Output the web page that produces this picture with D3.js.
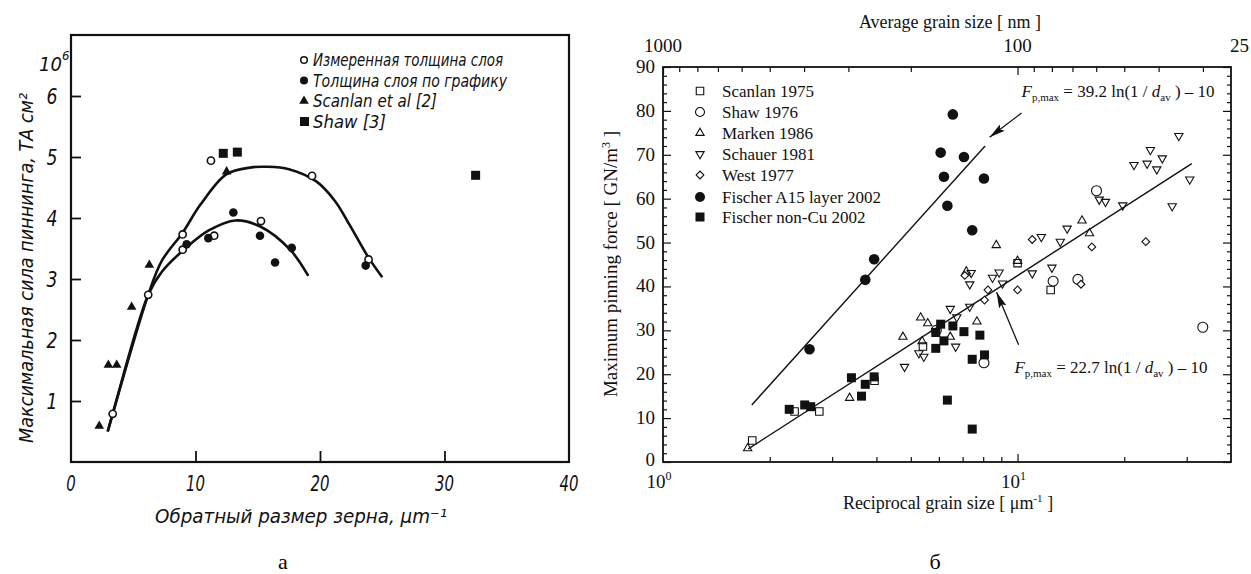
<!DOCTYPE html>
<html><head><meta charset="utf-8">
<script src="https://cdn.jsdelivr.net/npm/d3@7"></script>
<style>body{margin:0;background:#fff} svg{display:block}</style>
</head><body><svg id="c" width="1251" height="574"></svg>
<script>
// ================= Panel "а" data =================
const aMeasured = [[3.35,0.79],[6.2,2.74],[8.97,3.73],[8.97,3.48],[11.24,4.94],[11.5,3.71],[15.26,3.95],[19.36,4.69],[23.9,3.32]];
const aGraph    = [[9.29,3.57],[11.03,3.67],[13.04,4.09],[15.18,3.71],[16.39,3.27],[17.73,3.51],[23.67,3.22]];
const aScanlan  = [[2.27,0.59],[3.0,1.59],[3.67,1.59],[4.87,2.54],[6.29,3.23],[12.5,4.76]];
const aShaw     = [[12.23,5.06],[13.36,5.08],[32.5,4.7]];
const aUpperCurve = [[2.95,0.5],[3.35,0.79],[6.2,2.74],[7.3,3.3],[8.97,3.76],[10.4,4.22],[12.5,4.72],[14.5,4.83],[15.7,4.84],[17.5,4.8],[19.7,4.6],[21.2,4.28],[22.4,3.88],[23.9,3.35],[25.0,3.03]];
const aLowerCurve = [[2.95,0.5],[3.35,0.79],[6.2,2.74],[7.3,3.12],[9.29,3.52],[11.1,3.8],[13.2,3.96],[15.2,3.86],[17.6,3.48],[19.06,3.05]];
const aXTicks = [0,10,20,30,40];
const aYTicks = [1,2,3,4,5,6];
const aLegend = ["Измеренная толщина слоя","Толщина слоя по графику","Scanlan et al [2]","Shaw [3]"];

// ================= Panel "б" data =================
const bScanlan = [[1.785,4.9],[2.35,11.5],[2.76,11.5],[3.95,18.5],[5.41,26.3],[10.0,45.3],[12.4,39.2]];
const bShaw    = [[5.9,30.0],[8.04,22.6],[12.6,41.2],[14.8,41.6],[16.7,61.8],[33.3,30.7]];
const bMarken  = [[1.733,3.1],[3.36,14.6],[4.75,28.5],[5.33,32.9],[5.38,27.5],[5.58,31.6],[6.46,28.5],[7.17,43.4],[7.68,32.0],[8.71,49.4],[10.0,45.8],[15.2,55.0],[15.96,52.1]];
const bSchauer = [[4.8,21.7],[5.27,24.8],[5.44,24.0],[6.46,34.9],[6.69,26.3],[6.74,33.0],[7.33,35.4],[7.33,40.5],[7.4,43.1],[8.5,42.0],[8.87,43.2],[9.07,40.7],[11.0,43.0],[11.67,51.3],[12.5,44.3],[13.2,50.2],[13.8,53.2],[17.0,59.8],[17.7,59.3],[19.8,58.5],[21.3,67.7],[23.2,68.0],[23.7,71.1],[24.7,66.7],[25.6,69.2],[27.3,58.3],[28.5,74.3],[30.6,64.4]];
const bWest    = [[7.1,42.5],[8.07,36.9],[8.25,39.2],[10.0,39.2],[11.0,50.7],[15.1,40.5],[16.2,49.0],[23.0,50.2]];
const bFischerA15 = [[2.59,25.7],[3.72,41.5],[3.94,46.2],[6.07,70.5],[6.2,65.0],[6.34,58.4],[6.57,79.2],[7.06,69.5],[7.45,52.8],[8.04,64.6]];
const bFischerNonCu = [[2.27,12.0],[2.51,13.0],[2.61,12.6],[3.4,19.2],[3.63,15.0],[3.72,17.7],[3.94,19.4],[5.88,29.5],[5.88,25.9],[6.07,31.4],[6.2,27.6],[6.34,14.1],[6.57,31.0],[7.06,29.7],[7.45,23.4],[7.45,7.5],[7.83,28.9],[8.07,24.4]];
const bFitA15   = [[1.78,13.0],[8.1,72.0]];
const bFitAll   = [[1.74,3.0],[31.0,68.0]];
const bArrow1 = [[10.26,79.5],[8.34,74.0]];
const bArrow2 = [[10.07,26.7],[8.73,38.7]];
const bYMajor = d3.range(0,91,10);
const bYMinor = d3.range(0,91,2).filter(v=>v%10!==0);
const bXMinor = [2,3,4,5,6,7,8,9,20,30];
const bTopMajor = [1000,100];
const bTopMinor = [900,800,700,600,500,400,300,200,90,80,70,60,50,40,30];
const bLegend = ["Scanlan 1975","Shaw 1976","Marken 1986","Schauer 1981","West 1977","Fischer A15 layer 2002","Fischer non-Cu 2002"];

const svg = d3.select("#c");
svg.append("rect").attr("width",1251).attr("height",574).attr("fill","#fff");

// ================= Panel а =================
const HAND = "'DejaVu Sans Condensed','DejaVu Sans',sans-serif";
const ax = d3.scaleLinear().domain([0,40]).range([71,569]);
const ay = d3.scaleLinear().domain([0,7]).range([462,35]);
const A = svg.append("g");
A.append("rect").attr("x",ax(0)).attr("y",ay(7)).attr("width",ax(40)-ax(0)).attr("height",ay(0)-ay(7))
 .attr("fill","none").attr("stroke","#111").attr("stroke-width",2.2);
A.append("g").attr("transform",`translate(0,${ay(0)})`)
 .call(d3.axisBottom(ax).tickValues([10,20,30]).tickSize(-11).tickSizeOuter(0).tickFormat(""))
 .call(g=>{g.select(".domain").remove(); g.selectAll("line").attr("stroke","#111").attr("stroke-width",1.8);});
A.append("g").attr("transform",`translate(${ax(0)},0)`)
 .call(d3.axisLeft(ay).tickValues(aYTicks).tickSize(-10).tickSizeOuter(0).tickFormat(""))
 .call(g=>{g.select(".domain").remove(); g.selectAll("line").attr("stroke","#111").attr("stroke-width",1.8);});
A.selectAll("text.xl").data(aXTicks).join("text")
 .attr("x",d=>ax(d)).attr("y",491).attr("text-anchor","middle")
 .attr("font-family",HAND).attr("font-style","italic").attr("font-size",22).attr("fill","#111")
 .attr("textLength",d=>String(d).length*9.5).attr("lengthAdjust","spacingAndGlyphs").text(d=>d);
A.selectAll("text.yl").data(aYTicks).join("text")
 .attr("x",52).attr("y",d=>ay(d)+8).attr("text-anchor","middle")
 .attr("font-family",HAND).attr("font-style","italic").attr("font-size",22).attr("fill","#111")
 .attr("textLength",11).attr("lengthAdjust","spacingAndGlyphs").text(d=>d);
const t106 = A.append("text").attr("x",39).attr("y",71).attr("font-family",HAND).attr("font-style","italic").attr("font-size",20).attr("fill","#111");
t106.append("tspan").text("10");
t106.append("tspan").text("6").attr("dy",-11).attr("font-size",13);
A.append("text").attr("transform","translate(33,268) rotate(-90)").attr("text-anchor","middle")
 .attr("font-family",HAND).attr("font-style","italic").attr("font-size",19).attr("fill","#111")
 .attr("textLength",350).attr("lengthAdjust","spacingAndGlyphs")
 .text("Максимальная сила пиннинга, ТА см²");
A.append("text").attr("x",301).attr("y",523).attr("text-anchor","middle")
 .attr("font-family",HAND).attr("font-style","italic").attr("font-size",19).attr("fill","#111")
 .attr("textLength",292).attr("lengthAdjust","spacingAndGlyphs")
 .text("Обратный размер зерна, μm⁻¹");
const aLine = d3.line().x(d=>ax(d[0])).y(d=>ay(d[1])).curve(d3.curveCatmullRom.alpha(0.5));
[aUpperCurve,aLowerCurve].forEach(c=>A.append("path").attr("d",aLine(c)).attr("fill","none").attr("stroke","#111").attr("stroke-width",2.6));
A.selectAll("circle.m").data(aMeasured).join("circle").attr("cx",d=>ax(d[0])).attr("cy",d=>ay(d[1])).attr("r",3.6)
 .attr("fill","#fff").attr("stroke","#111").attr("stroke-width",1.6);
A.selectAll("circle.g").data(aGraph).join("circle").attr("cx",d=>ax(d[0])).attr("cy",d=>ay(d[1])).attr("r",4.3).attr("fill","#111");
const triA = d3.symbol(d3.symbolTriangle,40);
A.selectAll("path.s").data(aScanlan).join("path").attr("d",triA).attr("transform",d=>`translate(${ax(d[0])},${ay(d[1])})`).attr("fill","#111");
A.selectAll("rect.sh").data(aShaw).join("rect").attr("x",d=>ax(d[0])-4.5).attr("y",d=>ay(d[1])-4.5).attr("width",9).attr("height",9).attr("fill","#111");
const aLegY = [60,80.5,101,121.5];
aLegend.forEach((t,i)=>{
  const y = aLegY[i];
  if(i===0) A.append("circle").attr("cx",304).attr("cy",y).attr("r",3.3).attr("fill","#fff").attr("stroke","#111").attr("stroke-width",1.5);
  if(i===1) A.append("circle").attr("cx",304).attr("cy",y).attr("r",4).attr("fill","#111");
  if(i===2) A.append("path").attr("d",triA).attr("transform",`translate(304,${y})`).attr("fill","#111");
  if(i===3) A.append("rect").attr("x",300).attr("y",y-4.5).attr("width",9).attr("height",9).attr("fill","#111");
  A.append("text").attr("x",313).attr("y",y+6).attr("font-family",HAND).attr("font-style","italic").attr("font-size",18).attr("fill","#111")
   .attr("textLength",[190,194,124,73][i]).attr("lengthAdjust","spacingAndGlyphs").text(t);
});
svg.append("text").attr("x",283).attr("y",569).attr("text-anchor","middle").attr("font-family","'Liberation Serif',serif").attr("font-size",22).text("а");

// ================= Panel б =================
const SERIF = "'Liberation Serif','Times New Roman',serif";
const bx = d3.scaleLog().domain([1,40]).range([663,1231]);
const by = d3.scaleLinear().domain([0,90]).range([462,67]);
const bxTop = d3.scaleLog().domain([1000,25]).range([663,1231]);
const B = svg.append("g");
const styleTicks = g=>{g.select(".domain").remove(); g.selectAll("line").attr("stroke","#111").attr("stroke-width",1.2);};
B.append("g").attr("transform",`translate(${bx(1)},0)`).call(d3.axisLeft(by).tickValues(bYMajor).tickSize(-8).tickSizeOuter(0).tickFormat("")).call(styleTicks);
B.append("g").attr("transform",`translate(${bx(1)},0)`).call(d3.axisLeft(by).tickValues(bYMinor).tickSize(-4).tickSizeOuter(0).tickFormat("")).call(styleTicks);
B.append("g").attr("transform",`translate(${bx(40)},0)`).call(d3.axisRight(by).tickValues(bYMajor).tickSize(-8).tickSizeOuter(0).tickFormat("")).call(styleTicks);
B.append("g").attr("transform",`translate(${bx(40)},0)`).call(d3.axisRight(by).tickValues(bYMinor).tickSize(-4).tickSizeOuter(0).tickFormat("")).call(styleTicks);
B.append("g").attr("transform",`translate(0,${by(0)})`).call(d3.axisBottom(bx).tickValues(bXMinor).tickSize(-5).tickSizeOuter(0).tickFormat("")).call(styleTicks);
B.append("g").attr("transform",`translate(0,${by(0)})`).call(d3.axisBottom(bx).tickValues([10]).tickSize(-8).tickSizeOuter(0).tickFormat("")).call(styleTicks);
B.append("g").attr("transform",`translate(0,${by(90)})`).call(d3.axisTop(bxTop).tickValues(bTopMinor).tickSize(-5).tickSizeOuter(0).tickFormat("")).call(styleTicks);
B.append("g").attr("transform",`translate(0,${by(90)})`).call(d3.axisTop(bxTop).tickValues(bTopMajor).tickSize(-8).tickSizeOuter(0).tickFormat("")).call(styleTicks);
B.append("rect").attr("x",bx(1)).attr("y",by(90)).attr("width",bx(40)-bx(1)).attr("height",by(0)-by(90))
 .attr("fill","none").attr("stroke","#111").attr("stroke-width",1.8);
B.selectAll("text.yl").data(bYMajor).join("text").attr("x",655).attr("y",d=>by(d)+(d===0?4:6)).attr("text-anchor","end")
 .attr("font-family",SERIF).attr("font-size",19).attr("fill","#111").text(d=>d);
[[1000,"1000"],[100,"100"]].forEach(([v,t])=>B.append("text").attr("x",bxTop(v)).attr("y",52).attr("text-anchor","middle").attr("font-family",SERIF).attr("font-size",19).attr("fill","#111").text(t));
B.append("text").attr("x",1249).attr("y",52).attr("text-anchor","end").attr("font-family",SERIF).attr("font-size",19).attr("fill","#111").text("25");
B.append("text").attr("x",950).attr("y",28).attr("text-anchor","middle").attr("font-family",SERIF).attr("font-size",18).attr("fill","#111").text("Average grain size [ nm ]");
[[1,"0"],[10,"1"]].forEach(([v,e])=>{
  const t=B.append("text").attr("x",bx(v)-4).attr("y",488).attr("text-anchor","middle").attr("font-family",SERIF).attr("font-size",19).attr("fill","#111");
  t.append("tspan").text("10"); t.append("tspan").text(e).attr("dy",-8).attr("font-size",12);
});
const xt = B.append("text").attr("x",948).attr("y",509).attr("text-anchor","middle").attr("font-family",SERIF).attr("font-size",18).attr("fill","#111");
xt.append("tspan").text("Reciprocal grain size [ μm");
xt.append("tspan").text("-1").attr("dy",-7).attr("font-size",11);
xt.append("tspan").text(" ]").attr("dy",7);
const yt = B.append("text").attr("transform","translate(617,264) rotate(-90)").attr("text-anchor","middle").attr("font-family",SERIF).attr("font-size",19).attr("fill","#111");
yt.append("tspan").text("Maximum pinning force [ GN/m");
yt.append("tspan").text("3").attr("dy",-7).attr("font-size",12);
yt.append("tspan").text(" ]").attr("dy",7);
svg.append("text").attr("x",935).attr("y",569).attr("text-anchor","middle").attr("font-family",SERIF).attr("font-size",22).text("б");
const bLine = d3.line().x(d=>bx(d[0])).y(d=>by(d[1]));
[bFitA15,bFitAll].forEach(l=>B.append("path").attr("d",bLine(l)).attr("fill","none").attr("stroke","#111").attr("stroke-width",1.4));
const defs = svg.append("defs");
defs.append("marker").attr("id","ah").attr("viewBox","0 0 16 8").attr("refX",16).attr("refY",4).attr("markerWidth",16).attr("markerHeight",8)
 .attr("markerUnits","userSpaceOnUse").attr("orient","auto").append("path").attr("d","M0,0 L16,4 L0,8 L3,4 Z").attr("fill","#111");
[bArrow1,bArrow2].forEach(a=>B.append("path").attr("d",bLine(a)).attr("stroke","#111").attr("stroke-width",1.3).attr("marker-end","url(#ah)"));
function anno(x,y,coef){
  const t=B.append("text").attr("x",x).attr("y",y).attr("font-family",SERIF).attr("font-size",17).attr("fill","#111");
  t.append("tspan").text("F").attr("font-style","italic");
  t.append("tspan").text("p,max").attr("font-size",11).attr("dy",4);
  t.append("tspan").text(" = "+coef+" ln(1 / ").attr("dy",-4);
  t.append("tspan").text("d").attr("font-style","italic");
  t.append("tspan").text("av").attr("font-size",11).attr("dy",4);
  t.append("tspan").text(" ) – 10").attr("dy",-4);
}
anno(bx(10.26),by(83.1),"39.2");
anno(bx(9.8),by(20.3),"22.7");
const P = d=>`translate(${bx(d[0])},${by(d[1])})`;
const up = d3.symbol(d3.symbolTriangle,30), sq=d3.symbol(d3.symbolSquare,56), dia=d3.symbol(d3.symbolSquare,30);
B.selectAll("path.sc").data(bScanlan).join("path").attr("d",sq).attr("transform",P).attr("fill","#fff").attr("stroke","#111").attr("stroke-width",1.1);
B.selectAll("circle.sh").data(bShaw).join("circle").attr("cx",d=>bx(d[0])).attr("cy",d=>by(d[1])).attr("r",5).attr("fill","none").attr("stroke","#111").attr("stroke-width",1.1);
B.selectAll("path.mk").data(bMarken).join("path").attr("d",up).attr("transform",P).attr("fill","none").attr("stroke","#111").attr("stroke-width",1.1);
B.selectAll("path.scu").data(bSchauer).join("path").attr("d",up).attr("transform",d=>P(d)+" rotate(180)").attr("fill","none").attr("stroke","#111").attr("stroke-width",1.1);
B.selectAll("path.w").data(bWest).join("path").attr("d",dia).attr("transform",d=>P(d)+" rotate(45)").attr("fill","#fff").attr("stroke","#111").attr("stroke-width",1.1);
B.selectAll("circle.fa").data(bFischerA15).join("circle").attr("cx",d=>bx(d[0])).attr("cy",d=>by(d[1])).attr("r",5.3).attr("fill","#111");
B.selectAll("rect.fn").data(bFischerNonCu).join("rect").attr("x",d=>bx(d[0])-4.5).attr("y",d=>by(d[1])-4.5).attr("width",9).attr("height",9).attr("fill","#111");
const bLegY=[91,112,133,154,175,197,217];
bLegend.forEach((t,i)=>{
  const y=bLegY[i], x=700, g=B.append("g").attr("transform",`translate(${x},${y})`);
  if(i===0) g.append("path").attr("d",sq).attr("fill","#fff").attr("stroke","#111").attr("stroke-width",1.1);
  if(i===1) g.append("circle").attr("r",4.5).attr("fill","none").attr("stroke","#111").attr("stroke-width",1.1);
  if(i===2) g.append("path").attr("d",up).attr("fill","none").attr("stroke","#111").attr("stroke-width",1.1);
  if(i===3) g.append("path").attr("d",up).attr("transform","rotate(180)").attr("fill","none").attr("stroke","#111").attr("stroke-width",1.1);
  if(i===4) g.append("path").attr("d",dia).attr("transform","rotate(45)").attr("fill","none").attr("stroke","#111").attr("stroke-width",1.1);
  if(i===5) g.append("circle").attr("r",5).attr("fill","#111");
  if(i===6) g.append("rect").attr("x",-4.5).attr("y",-4.5).attr("width",9).attr("height",9).attr("fill","#111");
  B.append("text").attr("x",722).attr("y",y+6).attr("font-family",SERIF).attr("font-size",17).attr("fill","#111").text(t);
});
</script></body></html>
